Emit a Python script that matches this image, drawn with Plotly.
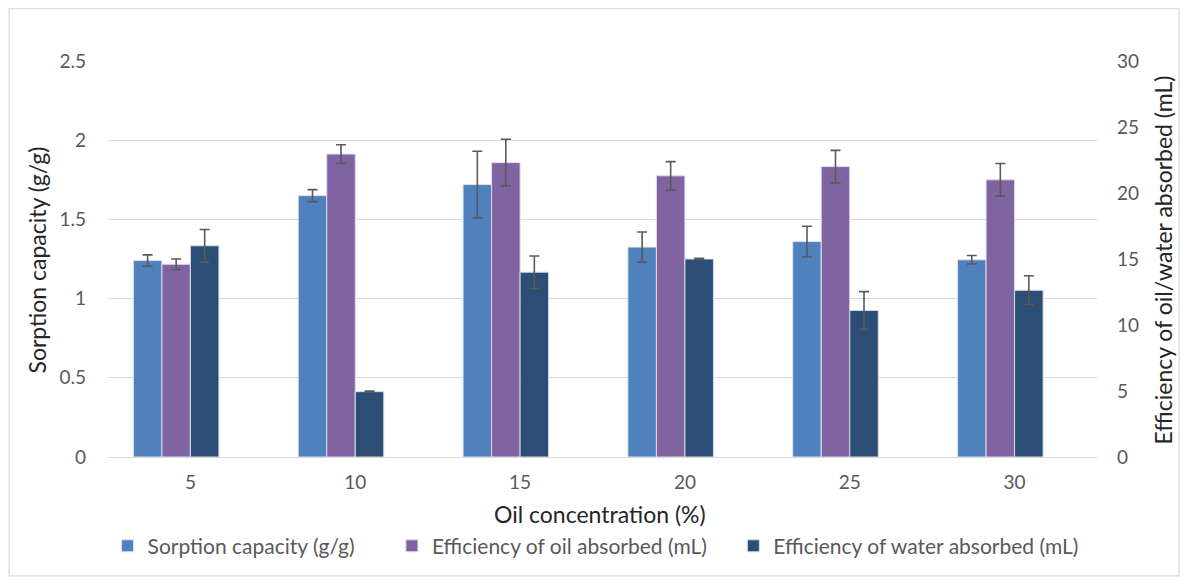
import plotly.graph_objects as go

categories = ["5", "10", "15", "20", "25", "30"]
sorption = [1.24, 1.65, 1.72, 1.325, 1.36, 1.245]
sorption_err = [0.036, 0.038, 0.21, 0.095, 0.097, 0.027]
oil_eff = [14.6, 22.95, 22.3, 21.3, 22.0, 21.0]
oil_err = [0.4, 0.7, 1.77, 1.08, 1.23, 1.24]
water_eff = [16.0, 4.95, 14.0, 15.0, 11.1, 12.63]
water_err = [1.23, 0.05, 1.23, 0.05, 1.43, 1.1]
series_names = ["Sorption capacity (g/g)", "Efficiency of oil absorbed (mL)",
                "Efficiency of water absorbed (mL)"]

FONT = "Lato"
GRAY = "#595959"
BW = 0.173
PAD1 = "\u00a0" * 6
PAD2 = "\u00a0" * 4

def ebar(arr):
    return dict(type="data", array=arr, visible=True, color="#595959", thickness=1.6, width=5)

fig = go.Figure()
fig.add_trace(go.Bar(x=categories, y=sorption, name=series_names[0] + PAD1,
                     marker=dict(color="#4F81BD", line=dict(color="#DCE3EE", width=1)),
                     width=BW, offset=-2 * BW, error_y=ebar(sorption_err), yaxis="y"))
fig.add_trace(go.Bar(x=categories, y=oil_eff, name=series_names[1] + PAD2,
                     marker=dict(color="#8064A2", line=dict(color="#E2DAEC", width=1)),
                     width=BW, offset=-1 * BW, error_y=ebar(oil_err), yaxis="y2"))
fig.add_trace(go.Bar(x=categories, y=water_eff, name=series_names[2],
                     marker=dict(color="#2C4D75", line=dict(color="#D5DCE6", width=1)),
                     width=BW, offset=0, error_y=ebar(water_err), yaxis="y2"))

fig.update_layout(
    width=1173, height=570,
    margin=dict(l=100, r=84, t=53, b=120),
    paper_bgcolor="white", plot_bgcolor="white",
    font=dict(family=FONT, size=19, color=GRAY),
    barmode="overlay",
    showlegend=True,
    legend=dict(orientation="h", x=0.493, xanchor="center", y=-0.222, yanchor="middle",
                font=dict(size=21, color=GRAY), itemwidth=30, tracegroupgap=0,
                itemclick=False),
    xaxis=dict(type="category", showgrid=False, showline=True, linecolor="#D9D9D9",
               linewidth=1, ticks="", tickfont=dict(size=19, color=GRAY),
               ticklabelstandoff=8),
    yaxis=dict(range=[0, 2.5], dtick=0.5, showgrid=True, gridcolor="#D9D9D9",
               gridwidth=1, zeroline=False, showline=False, ticks="",
               tickfont=dict(size=19, color=GRAY), ticklabelstandoff=21),
    yaxis2=dict(range=[0, 30], dtick=5, overlaying="y", side="right", showgrid=False,
                zeroline=False, showline=False, ticks="",
                tickfont=dict(size=19, color=GRAY), ticklabelstandoff=19),
    annotations=[
        dict(text="Oil concentration (%)", xref="paper", yref="paper",
             x=0.4975, y=-0.1436, showarrow=False, xanchor="center", yanchor="middle",
             font=dict(size=23, color="#262626")),
        dict(text="Sorption capacity (g/g)", xref="paper", yref="paper",
             x=-0.0718, y=0.4987, showarrow=False, textangle=-90,
             xanchor="center", yanchor="middle", font=dict(size=23, color="#262626")),
        dict(text="Efficiency of oil/water absorbed (mL)", xref="paper", yref="paper",
             x=1.0667, y=0.4987, showarrow=False, textangle=-90,
             xanchor="center", yanchor="middle", font=dict(size=23, color="#262626")),
    ],
    shapes=[
        dict(type="rect", xref="paper", yref="paper", x0=-0.1, x1=1.083,
             y0=-0.3, y1=1.132, line=dict(color="#D9D9D9", width=1.2),
             fillcolor="rgba(0,0,0,0)", layer="below"),
    ],
)

fig.write_html("out.html")
